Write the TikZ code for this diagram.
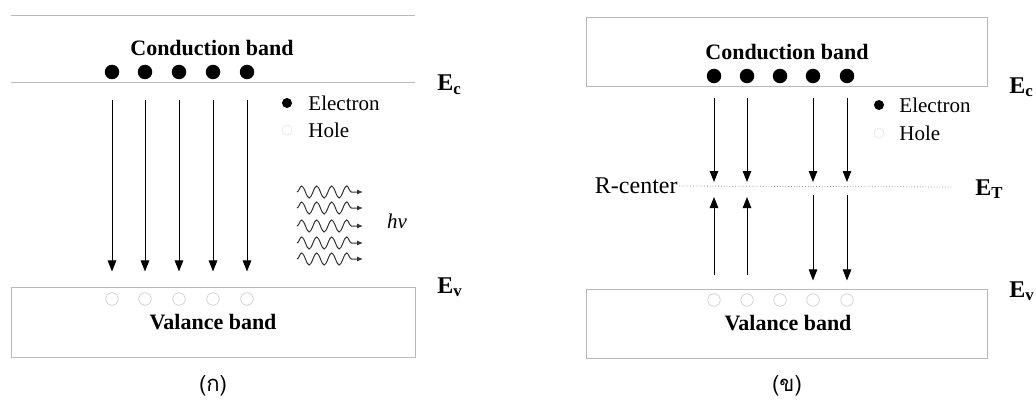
\documentclass[tikz,border=0pt]{standalone}
\usepackage{fontspec}
\setmainfont{Liberation Serif}
\newfontfamily\thaifont[Script=Thai]{Loma}
\usetikzlibrary{arrows.meta,decorations.pathmorphing}
\begin{document}
\begin{tikzpicture}[x=1pt,y=-1pt,line width=0.9pt,every node/.style={inner sep=1pt},
  band/.style={draw=gray!55,line width=0.7pt},
  elec/.style={circle,fill=black,inner sep=0pt,minimum size=14.5pt},
  smallelec/.style={circle,fill=black,inner sep=0pt,minimum size=10pt},
  hole/.style={circle,draw=gray!45,line width=0.6pt,inner sep=0pt,minimum size=12.5pt},
  faint/.style={circle,draw=gray!25,line width=0.5pt,inner sep=0pt,minimum size=10pt},
  tip/.style={-{Triangle[length=11pt,width=8.5pt]}},
  title/.style={font=\fontsize{22}{26}\selectfont\bfseries},
  lbl/.style={font=\fontsize{21}{25}\selectfont},
  level/.style={font=\fontsize{24}{28}\selectfont\bfseries,anchor=base west},
  photon/.style={decorate,decoration={snake,amplitude=6pt,segment length=15pt,post length=11pt},-{Latex[length=6pt,width=5pt]},line width=1pt,black!80}]
\useasboundingbox (0,0) rectangle (1036,404);
% (a) direct recombination
\draw[band] (11,15) -- (415,15);
\draw[band] (11,82) -- (415,82);
\draw[band] (11,287) rectangle (415,357);
\node[title] at (212,48) {Conduction band};
\node[title] at (213,322) {Valance band};
\foreach \i/\x in {1/112,2/145,3/179,4/213,5/247} {
  \node[elec] (ea\i) at (\x,72) {};
  \node[hole] (ha\i) at (\x,299) {};
  \draw[tip,shorten <=20pt,shorten >=21pt] (ea\i) -- (ha\i);
}
\node[level] (Eca) at (436,91) {E\textsubscript{c}};
\node[level] (Eva) at (436,293) {E\textsubscript{v}};
\node[smallelec] (lda) at (287,103) {};
\node[lbl,anchor=west] at (307,103) {Electron};
\node[faint] (lha) at (287,130) {};
\node[lbl,anchor=west] at (307,130) {Hole};
\foreach \y in {192,208,226,243,259}
  \draw[photon] (297,\y) -- (363,\y);
\node[lbl,font=\fontsize{21}{25}\selectfont\itshape] at (397,221) {hν};
\node[font=\thaifont\fontsize{22}{26}\selectfont] at (213,386) {(ก)};
% (b) recombination through R-center
\draw[band] (586,17) rectangle (987,86);
\draw[band] (586,289) rectangle (987,358);
\node[title] at (787,52) {Conduction band};
\node[title] at (788,323) {Valance band};
\node[lbl,font=\fontsize{24}{28}\selectfont,anchor=east] (rc) at (679,186) {R-center};
\draw[dotted,gray!85,line width=0.8pt] (rc.east) -- (952,187);
\foreach \i/\x in {1/714,2/747,3/780,4/813,5/847} {
  \node[elec] (eb\i) at (\x,76) {};
  \node[hole] (hb\i) at (\x,300) {};
  \coordinate (tb\i) at (\x,187);
}
\foreach \i in {1,2} {
  \draw[tip,shorten <=14pt,shorten >=5pt] (eb\i) -- (tb\i);
  \draw[tip,shorten <=18pt,shorten >=10pt] (hb\i) -- (tb\i);
}
\foreach \i in {4,5} {
  \draw[tip,shorten <=14pt,shorten >=5pt] (eb\i) -- (tb\i);
  \draw[tip,shorten <=8pt,shorten >=13pt] (tb\i) -- (hb\i);
}
\node[level] (Ecb) at (1008,93) {E\textsubscript{c}};
\node[level] (ETb) at (974,195) {E\textsubscript{T}};
\node[level] (Evb) at (1008,297) {E\textsubscript{v}};
\node[smallelec] (ldb) at (879,105) {};
\node[lbl,anchor=west] at (898,105) {Electron};
\node[faint] (lhb) at (879,133) {};
\node[lbl,anchor=west] at (898,133) {Hole};
\node[font=\thaifont\fontsize{22}{26}\selectfont] at (787,386) {(ข)};
\end{tikzpicture}
\end{document}
